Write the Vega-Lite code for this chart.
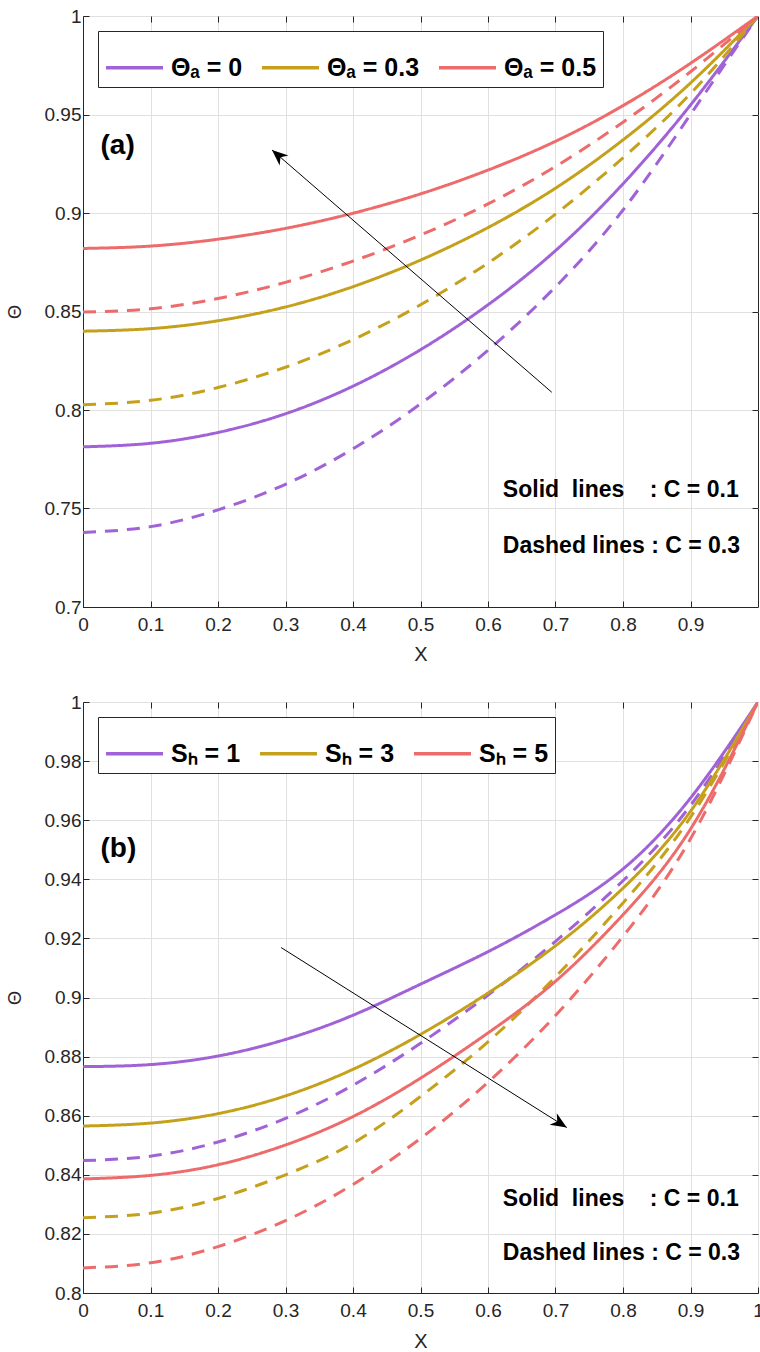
{
  "$schema": "https://vega.github.io/schema/vega-lite/v6.json",
  "padding": {"left": 5, "top": 6, "right": 0, "bottom": 0},
  "background": "white",
  "spacing": 27,
  "config": {
    "font": "Liberation Sans",
    "view": {"stroke": "#262626", "strokeWidth": 1},
    "axis": {
      "domainColor": "#262626", "tickColor": "#262626", "tickSize": -6,
      "labelColor": "#262626", "labelFontSize": 19, "labelFont": "Liberation Sans",
      "titleFont": "Liberation Sans", "titleFontSize": 20, "titleFontWeight": "normal", "titleColor": "#262626",
      "gridColor": "#e0e0e0", "labelFlush": false, "labelOverlap": false
    },
    "legend": {
      "orient": "top-left", "offset": 15, "direction": "horizontal", "title": null,
      "symbolType": "stroke", "symbolSize": 3249, "symbolStrokeWidth": 3.5,
      "labelFontSize": 25, "labelFontWeight": "bold", "labelFont": "Liberation Sans", "labelColor": "black",
      "labelLimit": 400, "fillColor": "white", "strokeColor": "#262626", "padding": 6,
      "columnPadding": 12, "labelOffset": 6
    }
  },
  "datasets": {
    "a": [
      {"X":0,"Theta":0.7813,"series":"Θₐ = 0","C":"0.1"},{"X":0.1,"Theta":0.7831,"series":"Θₐ = 0","C":"0.1"},{"X":0.2,"Theta":0.7886,"series":"Θₐ = 0","C":"0.1"},{"X":0.3,"Theta":0.7981,"series":"Θₐ = 0","C":"0.1"},{"X":0.4,"Theta":0.8121,"series":"Θₐ = 0","C":"0.1"},{"X":0.5,"Theta":0.8306,"series":"Θₐ = 0","C":"0.1"},{"X":0.6,"Theta":0.8534,"series":"Θₐ = 0","C":"0.1"},{"X":0.7,"Theta":0.8809,"series":"Θₐ = 0","C":"0.1"},{"X":0.8,"Theta":0.9148,"series":"Θₐ = 0","C":"0.1"},{"X":0.9,"Theta":0.9548,"series":"Θₐ = 0","C":"0.1"},{"X":1,"Theta":1,"series":"Θₐ = 0","C":"0.1"},
      {"X":0,"Theta":0.7378,"series":"Θₐ = 0","C":"0.3"},{"X":0.1,"Theta":0.7408,"series":"Θₐ = 0","C":"0.3"},{"X":0.2,"Theta":0.7493,"series":"Θₐ = 0","C":"0.3"},{"X":0.3,"Theta":0.7623,"series":"Θₐ = 0","C":"0.3"},{"X":0.4,"Theta":0.7803,"series":"Θₐ = 0","C":"0.3"},{"X":0.5,"Theta":0.8031,"series":"Θₐ = 0","C":"0.3"},{"X":0.6,"Theta":0.8303,"series":"Θₐ = 0","C":"0.3"},{"X":0.7,"Theta":0.8625,"series":"Θₐ = 0","C":"0.3"},{"X":0.8,"Theta":0.9015,"series":"Θₐ = 0","C":"0.3"},{"X":0.9,"Theta":0.95,"series":"Θₐ = 0","C":"0.3"},{"X":1,"Theta":1,"series":"Θₐ = 0","C":"0.3"},
      {"X":0,"Theta":0.84,"series":"Θₐ = 0.3","C":"0.1"},{"X":0.1,"Theta":0.8413,"series":"Θₐ = 0.3","C":"0.1"},{"X":0.2,"Theta":0.8453,"series":"Θₐ = 0.3","C":"0.1"},{"X":0.3,"Theta":0.8523,"series":"Θₐ = 0.3","C":"0.1"},{"X":0.4,"Theta":0.8626,"series":"Θₐ = 0.3","C":"0.1"},{"X":0.5,"Theta":0.8761,"series":"Θₐ = 0.3","C":"0.1"},{"X":0.6,"Theta":0.8926,"series":"Θₐ = 0.3","C":"0.1"},{"X":0.7,"Theta":0.9126,"series":"Θₐ = 0.3","C":"0.1"},{"X":0.8,"Theta":0.9371,"series":"Θₐ = 0.3","C":"0.1"},{"X":0.9,"Theta":0.966,"series":"Θₐ = 0.3","C":"0.1"},{"X":1,"Theta":1,"series":"Θₐ = 0.3","C":"0.1"},
      {"X":0,"Theta":0.8027,"series":"Θₐ = 0.3","C":"0.3"},{"X":0.1,"Theta":0.8049,"series":"Θₐ = 0.3","C":"0.3"},{"X":0.2,"Theta":0.8114,"series":"Θₐ = 0.3","C":"0.3"},{"X":0.3,"Theta":0.8217,"series":"Θₐ = 0.3","C":"0.3"},{"X":0.4,"Theta":0.8357,"series":"Θₐ = 0.3","C":"0.3"},{"X":0.5,"Theta":0.8534,"series":"Θₐ = 0.3","C":"0.3"},{"X":0.6,"Theta":0.8746,"series":"Θₐ = 0.3","C":"0.3"},{"X":0.7,"Theta":0.8994,"series":"Θₐ = 0.3","C":"0.3"},{"X":0.8,"Theta":0.928,"series":"Θₐ = 0.3","C":"0.3"},{"X":0.9,"Theta":0.9606,"series":"Θₐ = 0.3","C":"0.3"},{"X":1,"Theta":1,"series":"Θₐ = 0.3","C":"0.3"},
      {"X":0,"Theta":0.882,"series":"Θₐ = 0.5","C":"0.1"},{"X":0.1,"Theta":0.8832,"series":"Θₐ = 0.5","C":"0.1"},{"X":0.2,"Theta":0.8867,"series":"Θₐ = 0.5","C":"0.1"},{"X":0.3,"Theta":0.8922,"series":"Θₐ = 0.5","C":"0.1"},{"X":0.4,"Theta":0.8999,"series":"Θₐ = 0.5","C":"0.1"},{"X":0.5,"Theta":0.9097,"series":"Θₐ = 0.5","C":"0.1"},{"X":0.6,"Theta":0.9218,"series":"Θₐ = 0.5","C":"0.1"},{"X":0.7,"Theta":0.9364,"series":"Θₐ = 0.5","C":"0.1"},{"X":0.8,"Theta":0.9545,"series":"Θₐ = 0.5","C":"0.1"},{"X":0.9,"Theta":0.976,"series":"Θₐ = 0.5","C":"0.1"},{"X":1,"Theta":1,"series":"Θₐ = 0.5","C":"0.1"},
      {"X":0,"Theta":0.8497,"series":"Θₐ = 0.5","C":"0.3"},{"X":0.1,"Theta":0.8514,"series":"Θₐ = 0.5","C":"0.3"},{"X":0.2,"Theta":0.8566,"series":"Θₐ = 0.5","C":"0.3"},{"X":0.3,"Theta":0.8648,"series":"Θₐ = 0.5","C":"0.3"},{"X":0.4,"Theta":0.8756,"series":"Θₐ = 0.5","C":"0.3"},{"X":0.5,"Theta":0.8888,"series":"Θₐ = 0.5","C":"0.3"},{"X":0.6,"Theta":0.9046,"series":"Θₐ = 0.5","C":"0.3"},{"X":0.7,"Theta":0.9236,"series":"Θₐ = 0.5","C":"0.3"},{"X":0.8,"Theta":0.9461,"series":"Θₐ = 0.5","C":"0.3"},{"X":0.9,"Theta":0.9717,"series":"Θₐ = 0.5","C":"0.3"},{"X":1,"Theta":1,"series":"Θₐ = 0.5","C":"0.3"}
    ],
    "b": [
      {"X":0,"Theta":0.8766,"series":"Sₕ = 1","C":"0.1"},{"X":0.1,"Theta":0.8773,"series":"Sₕ = 1","C":"0.1"},{"X":0.2,"Theta":0.8802,"series":"Sₕ = 1","C":"0.1"},{"X":0.3,"Theta":0.8858,"series":"Sₕ = 1","C":"0.1"},{"X":0.4,"Theta":0.894,"series":"Sₕ = 1","C":"0.1"},{"X":0.5,"Theta":0.9045,"series":"Sₕ = 1","C":"0.1"},{"X":0.6,"Theta":0.9155,"series":"Sₕ = 1","C":"0.1"},{"X":0.7,"Theta":0.928,"series":"Sₕ = 1","C":"0.1"},{"X":0.8,"Theta":0.9435,"series":"Sₕ = 1","C":"0.1"},{"X":0.9,"Theta":0.9675,"series":"Sₕ = 1","C":"0.1"},{"X":1,"Theta":1,"series":"Sₕ = 1","C":"0.1"},
      {"X":0,"Theta":0.8448,"series":"Sₕ = 1","C":"0.3"},{"X":0.1,"Theta":0.8463,"series":"Sₕ = 1","C":"0.3"},{"X":0.2,"Theta":0.8511,"series":"Sₕ = 1","C":"0.3"},{"X":0.3,"Theta":0.8591,"series":"Sₕ = 1","C":"0.3"},{"X":0.4,"Theta":0.8703,"series":"Sₕ = 1","C":"0.3"},{"X":0.5,"Theta":0.8845,"series":"Sₕ = 1","C":"0.3"},{"X":0.6,"Theta":0.9008,"series":"Sₕ = 1","C":"0.3"},{"X":0.7,"Theta":0.919,"series":"Sₕ = 1","C":"0.3"},{"X":0.8,"Theta":0.9395,"series":"Sₕ = 1","C":"0.3"},{"X":0.9,"Theta":0.965,"series":"Sₕ = 1","C":"0.3"},{"X":1,"Theta":1,"series":"Sₕ = 1","C":"0.3"},
      {"X":0,"Theta":0.8565,"series":"Sₕ = 3","C":"0.1"},{"X":0.1,"Theta":0.8575,"series":"Sₕ = 3","C":"0.1"},{"X":0.2,"Theta":0.8607,"series":"Sₕ = 3","C":"0.1"},{"X":0.3,"Theta":0.8667,"series":"Sₕ = 3","C":"0.1"},{"X":0.4,"Theta":0.8757,"series":"Sₕ = 3","C":"0.1"},{"X":0.5,"Theta":0.8875,"series":"Sₕ = 3","C":"0.1"},{"X":0.6,"Theta":0.9015,"series":"Sₕ = 3","C":"0.1"},{"X":0.7,"Theta":0.9175,"series":"Sₕ = 3","C":"0.1"},{"X":0.8,"Theta":0.937,"series":"Sₕ = 3","C":"0.1"},{"X":0.9,"Theta":0.963,"series":"Sₕ = 3","C":"0.1"},{"X":1,"Theta":1,"series":"Sₕ = 3","C":"0.1"},
      {"X":0,"Theta":0.8255,"series":"Sₕ = 3","C":"0.3"},{"X":0.1,"Theta":0.827,"series":"Sₕ = 3","C":"0.3"},{"X":0.2,"Theta":0.832,"series":"Sₕ = 3","C":"0.3"},{"X":0.3,"Theta":0.84,"series":"Sₕ = 3","C":"0.3"},{"X":0.4,"Theta":0.8507,"series":"Sₕ = 3","C":"0.3"},{"X":0.5,"Theta":0.8665,"series":"Sₕ = 3","C":"0.3"},{"X":0.6,"Theta":0.885,"series":"Sₕ = 3","C":"0.3"},{"X":0.7,"Theta":0.907,"series":"Sₕ = 3","C":"0.3"},{"X":0.8,"Theta":0.932,"series":"Sₕ = 3","C":"0.3"},{"X":0.9,"Theta":0.961,"series":"Sₕ = 3","C":"0.3"},{"X":1,"Theta":1,"series":"Sₕ = 3","C":"0.3"},
      {"X":0,"Theta":0.8386,"series":"Sₕ = 5","C":"0.1"},{"X":0.1,"Theta":0.8398,"series":"Sₕ = 5","C":"0.1"},{"X":0.2,"Theta":0.8434,"series":"Sₕ = 5","C":"0.1"},{"X":0.3,"Theta":0.8501,"series":"Sₕ = 5","C":"0.1"},{"X":0.4,"Theta":0.8597,"series":"Sₕ = 5","C":"0.1"},{"X":0.5,"Theta":0.8727,"series":"Sₕ = 5","C":"0.1"},{"X":0.6,"Theta":0.888,"series":"Sₕ = 5","C":"0.1"},{"X":0.7,"Theta":0.9055,"series":"Sₕ = 5","C":"0.1"},{"X":0.8,"Theta":0.928,"series":"Sₕ = 5","C":"0.1"},{"X":0.9,"Theta":0.957,"series":"Sₕ = 5","C":"0.1"},{"X":1,"Theta":1,"series":"Sₕ = 5","C":"0.1"},
      {"X":0,"Theta":0.8085,"series":"Sₕ = 5","C":"0.3"},{"X":0.1,"Theta":0.8102,"series":"Sₕ = 5","C":"0.3"},{"X":0.2,"Theta":0.8157,"series":"Sₕ = 5","C":"0.3"},{"X":0.3,"Theta":0.8245,"series":"Sₕ = 5","C":"0.3"},{"X":0.4,"Theta":0.8367,"series":"Sₕ = 5","C":"0.3"},{"X":0.5,"Theta":0.8523,"series":"Sₕ = 5","C":"0.3"},{"X":0.6,"Theta":0.8713,"series":"Sₕ = 5","C":"0.3"},{"X":0.7,"Theta":0.8939,"series":"Sₕ = 5","C":"0.3"},{"X":0.8,"Theta":0.9207,"series":"Sₕ = 5","C":"0.3"},{"X":0.9,"Theta":0.9537,"series":"Sₕ = 5","C":"0.3"},{"X":1,"Theta":1,"series":"Sₕ = 5","C":"0.3"}
    ],
    "arrA": [{"X": 0.6945, "Theta": 0.809, "X2": 0.28, "Theta2": 0.932}],
    "arrB": [{"X": 0.2935, "Theta": 0.9169, "X2": 0.7167, "Theta2": 0.856}],
    "txtA": [{"X": 0.622, "Theta": 0.7594, "label": "Solid\u00a0\u00a0lines\u00a0\u00a0\u00a0\u00a0: C = 0.1"}, {"X": 0.622, "Theta": 0.731, "label": "Dashed lines : C = 0.3"}],
    "txtB": [{"X": 0.622, "Theta": 0.8317, "label": "Solid\u00a0\u00a0lines\u00a0\u00a0\u00a0\u00a0: C = 0.1"}, {"X": 0.622, "Theta": 0.8135, "label": "Dashed lines : C = 0.3"}],
    "tagA": [{"X": 0.026, "Theta": 0.934, "label": "(a)"}],
    "tagB": [{"X": 0.026, "Theta": 0.9504, "label": "(b)"}]
  },
  "resolve": {"scale": {"color": "independent"}, "legend": {"color": "independent"}},
  "vconcat": [
    {
      "width": 675, "height": 591,
      "resolve": {"axis": {"x": "independent", "y": "independent"}},
      "layer": [
        {
          "data": {"name": "a"},
          "mark": {"type": "line", "interpolate": "natural", "strokeWidth": 3, "clip": true},
          "encoding": {
            "x": {"field": "X", "type": "quantitative", "scale": {"domain": [0, 1], "nice": false},
                  "axis": {"title": "X", "values": [0, 0.1, 0.2, 0.3, 0.4, 0.5, 0.6, 0.7, 0.8, 0.9], "format": ".1~f",
                           "labelFontSize": 19, "labelPadding": 14, "titlePadding": 10, "titleFontSize": 20}},
            "y": {"field": "Theta", "type": "quantitative", "scale": {"domain": [0.7, 1], "nice": false, "zero": false},
                  "axis": {"title": "Θ", "values": [0.7, 0.75, 0.8, 0.85, 0.9, 0.95, 1], "format": ".2~f",
                           "labelFontSize": 19, "labelPadding": 8, "titlePadding": 20, "titleFontSize": 18}},
            "color": {"field": "series", "type": "nominal",
                      "scale": {"domain": ["Θₐ = 0", "Θₐ = 0.3", "Θₐ = 0.5"], "range": ["#A062D6", "#C5A11B", "#EE6B6B"]}},
            "strokeDash": {"field": "C", "type": "nominal", "scale": {"domain": ["0.1", "0.3"], "range": [[1, 0], [13, 9]]}, "legend": null}
          }
        },
        {
          "data": {"name": "arrA"},
          "mark": {"type": "rule", "color": "black", "strokeWidth": 1},
          "encoding": {"x": {"field": "X", "type": "quantitative", "axis": null}, "y": {"field": "Theta", "type": "quantitative", "axis": null},
                       "x2": {"field": "X2"}, "y2": {"field": "Theta2"}}
        },
        {
          "data": {"name": "arrA"},
          "mark": {"type": "point", "shape": "M0,0 L0.42,1 L0,0.7 L-0.42,1 Z", "filled": true, "color": "black", "opacity": 1, "size": 1024, "angle": 311},
          "encoding": {"x": {"field": "X2", "type": "quantitative", "axis": null}, "y": {"field": "Theta2", "type": "quantitative", "axis": null}}
        },
        {
          "data": {"name": "txtA"},
          "mark": {"type": "text", "align": "left", "baseline": "middle", "fontWeight": "bold", "fontSize": 23, "color": "black"},
          "encoding": {
            "x": {"field": "X", "type": "quantitative",
                  "axis": {"orient": "top", "labels": false, "grid": false, "domain": false, "title": null, "values": [0.1, 0.2, 0.3, 0.4, 0.5, 0.6, 0.7, 0.8, 0.9]}},
            "y": {"field": "Theta", "type": "quantitative",
                  "axis": {"orient": "right", "labels": false, "grid": false, "domain": false, "title": null, "values": [0.75, 0.8, 0.85, 0.9, 0.95]}},
            "text": {"field": "label"}}
        },
        {
          "data": {"name": "tagA"},
          "mark": {"type": "text", "align": "left", "baseline": "middle", "fontWeight": "bold", "fontSize": 28, "color": "black"},
          "encoding": {"x": {"field": "X", "type": "quantitative", "axis": null}, "y": {"field": "Theta", "type": "quantitative", "axis": null}, "text": {"field": "label"}}
        }
      ]
    },
    {
      "width": 675, "height": 591,
      "resolve": {"axis": {"x": "independent", "y": "independent"}},
      "layer": [
        {
          "data": {"name": "b"},
          "mark": {"type": "line", "interpolate": "natural", "strokeWidth": 3, "clip": true},
          "encoding": {
            "x": {"field": "X", "type": "quantitative", "scale": {"domain": [0, 1], "nice": false},
                  "axis": {"title": "X", "values": [0, 0.1, 0.2, 0.3, 0.4, 0.5, 0.6, 0.7, 0.8, 0.9, 1], "format": ".1~f",
                           "labelFontSize": 19, "labelPadding": 14, "titlePadding": 11, "titleFontSize": 20}},
            "y": {"field": "Theta", "type": "quantitative", "scale": {"domain": [0.8, 1], "nice": false, "zero": false},
                  "axis": {"title": "Θ", "values": [0.8, 0.82, 0.84, 0.86, 0.88, 0.9, 0.92, 0.94, 0.96, 0.98, 1], "format": ".2~f",
                           "labelFontSize": 19, "labelPadding": 8, "titlePadding": 20, "titleFontSize": 18}},
            "color": {"field": "series", "type": "nominal",
                      "scale": {"domain": ["Sₕ = 1", "Sₕ = 3", "Sₕ = 5"], "range": ["#A062D6", "#C5A11B", "#EE6B6B"]}},
            "strokeDash": {"field": "C", "type": "nominal", "scale": {"domain": ["0.1", "0.3"], "range": [[1, 0], [13, 9]]}, "legend": null}
          }
        },
        {
          "data": {"name": "arrB"},
          "mark": {"type": "rule", "color": "black", "strokeWidth": 1},
          "encoding": {"x": {"field": "X", "type": "quantitative", "axis": null}, "y": {"field": "Theta", "type": "quantitative", "axis": null},
                       "x2": {"field": "X2"}, "y2": {"field": "Theta2"}}
        },
        {
          "data": {"name": "arrB"},
          "mark": {"type": "point", "shape": "M0,0 L0.42,1 L0,0.7 L-0.42,1 Z", "filled": true, "color": "black", "opacity": 1, "size": 1024, "angle": 122},
          "encoding": {"x": {"field": "X2", "type": "quantitative", "axis": null}, "y": {"field": "Theta2", "type": "quantitative", "axis": null}}
        },
        {
          "data": {"name": "txtB"},
          "mark": {"type": "text", "align": "left", "baseline": "middle", "fontWeight": "bold", "fontSize": 23, "color": "black"},
          "encoding": {
            "x": {"field": "X", "type": "quantitative",
                  "axis": {"orient": "top", "labels": false, "grid": false, "domain": false, "title": null, "values": [0.1, 0.2, 0.3, 0.4, 0.5, 0.6, 0.7, 0.8, 0.9]}},
            "y": {"field": "Theta", "type": "quantitative",
                  "axis": {"orient": "right", "labels": false, "grid": false, "domain": false, "title": null, "values": [0.82, 0.84, 0.86, 0.88, 0.9, 0.92, 0.94, 0.96, 0.98]}},
            "text": {"field": "label"}}
        },
        {
          "data": {"name": "tagB"},
          "mark": {"type": "text", "align": "left", "baseline": "middle", "fontWeight": "bold", "fontSize": 28, "color": "black"},
          "encoding": {"x": {"field": "X", "type": "quantitative", "axis": null}, "y": {"field": "Theta", "type": "quantitative", "axis": null}, "text": {"field": "label"}}
        }
      ]
    }
  ]
}
